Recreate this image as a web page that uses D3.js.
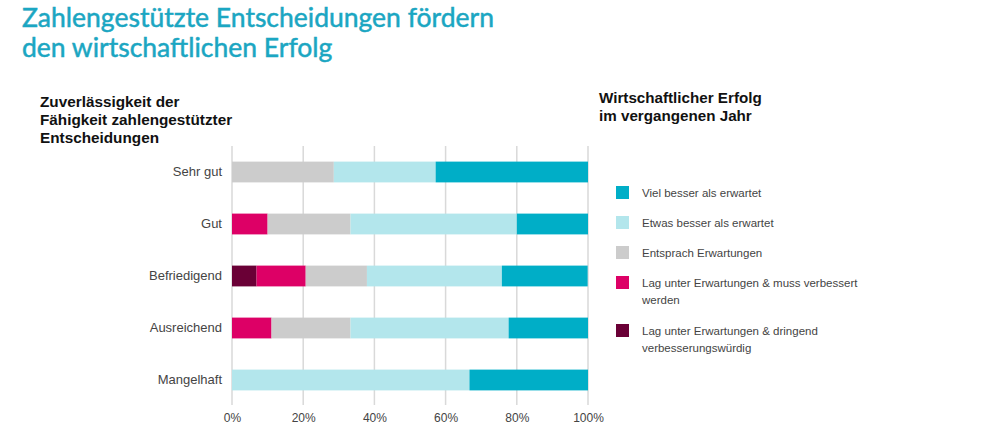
<!DOCTYPE html>
<html><head><meta charset="utf-8">
<script src="https://cdn.jsdelivr.net/npm/d3@7"></script>
<style>
body{margin:0;background:#fff;}
svg{display:block;font-family:"Liberation Sans",Arial,sans-serif;}
</style></head>
<body><svg id="c" width="1000" height="428"></svg>
<script>
const categories = ["Sehr gut","Gut","Befriedigend","Ausreichend","Mangelhaft"];
const seriesNames = ["Lag unter Erwartungen & dringend verbesserungswürdig","Lag unter Erwartungen & muss verbessert werden","Entsprach Erwartungen","Etwas besser als erwartet","Viel besser als erwartet"];
const dringend   = [0, 0, 6.9, 0, 0];
const muss       = [0, 10.0, 13.8, 11.1, 0];
const entsprach  = [28.6, 23.3, 17.2, 22.2, 0];
const etwas      = [28.6, 46.7, 37.9, 44.4, 66.7];
const viel       = [42.8, 20.0, 24.1, 22.3, 33.3];
const colors = ["#6a0036","#dd0066","#cccccc","#b3e6ec","#00aec7"];
const tickValues = [0,20,40,60,80,100];
const titleLines = ["Zahlengestützte Entscheidungen fördern","den wirtschaftlichen Erfolg"];
const yTitleLines = ["Zuverlässigkeit der","Fähigkeit zahlengestützter","Entscheidungen"];
const legendTitleLines = ["Wirtschaftlicher Erfolg","im vergangenen Jahr"];
const legendItems = [
  {name:"Viel besser als erwartet", lines:["Viel besser als erwartet"], s:4},
  {name:"Etwas besser als erwartet", lines:["Etwas besser als erwartet"], s:3},
  {name:"Entsprach Erwartungen", lines:["Entsprach Erwartungen"], s:2},
  {name:"Lag unter Erwartungen & muss verbessert werden", lines:["Lag unter Erwartungen & muss verbessert","werden"], s:1},
  {name:"Lag unter Erwartungen & dringend verbesserungswürdig", lines:["Lag unter Erwartungen & dringend","verbesserungswürdig"], s:0}
];

const svg = d3.select("#c");
const series = [dringend, muss, entsprach, etwas, viel];
const data = categories.map((c,i)=>{const o={cat:c}; series.forEach((s,k)=>o["s"+k]=s[i]); return o;});
const stack = d3.stack().keys(series.map((s,k)=>"s"+k))(data);

const x = d3.scaleLinear().domain([0,100]).range([232,588]);
const y = d3.scaleBand().domain(categories).range([146,406]).paddingInner(0.6).paddingOuter(0.3);

// Title
svg.append("text").attr("fill","#1ba6c2").attr("stroke","#1ba6c2").attr("stroke-width",0.5)
  .style("font-family","Lato, 'Open Sans', sans-serif").style("font-size","26.5px")
  .selectAll("tspan").data(titleLines).join("tspan")
  .attr("x",22).attr("y",(d,i)=>27+i*30).text(d=>d);

// y title
svg.append("text").attr("fill","#111").style("font-weight","bold").style("font-size","15.3px")
  .selectAll("tspan").data(yTitleLines).join("tspan")
  .attr("x",40).attr("y",(d,i)=>107+i*18).text(d=>d);

// grid
svg.append("g").selectAll("line").data(tickValues).join("line")
  .attr("x1",d=>x(d)).attr("x2",d=>x(d)).attr("y1",146).attr("y2",405)
  .attr("stroke","#d9d9d9").attr("stroke-width",1.5);

// bars
svg.append("g").selectAll("g").data(stack).join("g").attr("fill",(d,i)=>colors[i])
  .selectAll("rect").data(d=>d).join("rect")
  .attr("x",d=>x(d[0])).attr("width",d=>x(d[1])-x(d[0]))
  .attr("y",d=>y(d.data.cat)).attr("height",y.bandwidth());

// x axis
const xAxis = svg.append("g").attr("transform","translate(0,405)")
  .call(d3.axisBottom(x).tickValues(tickValues).tickFormat(d=>d+"%").tickSize(0).tickPadding(8));
xAxis.select(".domain").remove();
xAxis.selectAll("text").attr("fill","#444").style("font-size","12px").style("font-family","'Liberation Sans',Arial,sans-serif");

// y axis
const yAxis = svg.append("g").attr("transform","translate(232,0)")
  .call(d3.axisLeft(y).tickSize(0).tickPadding(10));
yAxis.select(".domain").remove();
yAxis.selectAll("text").attr("fill","#444").style("font-size","13px").style("font-family","'Liberation Sans',Arial,sans-serif");

// legend title
svg.append("text").attr("fill","#111").style("font-weight","bold").style("font-size","15.2px")
  .selectAll("tspan").data(legendTitleLines).join("tspan")
  .attr("x",599).attr("y",(d,i)=>103+i*18).text(d=>d);

// legend
const ly = [186,216,246,276,324];
const lg = svg.append("g").selectAll("g").data(legendItems).join("g")
  .attr("transform",(d,i)=>`translate(616,${ly[i]})`);
lg.append("rect").attr("width",13).attr("height",13).attr("fill",d=>colors[d.s]);
lg.append("text").attr("fill","#444").style("font-size","11.5px")
  .selectAll("tspan").data(d=>d.lines).join("tspan")
  .attr("x",26).attr("y",(d,i)=>11+i*17).text(d=>d);
</script></body></html>
